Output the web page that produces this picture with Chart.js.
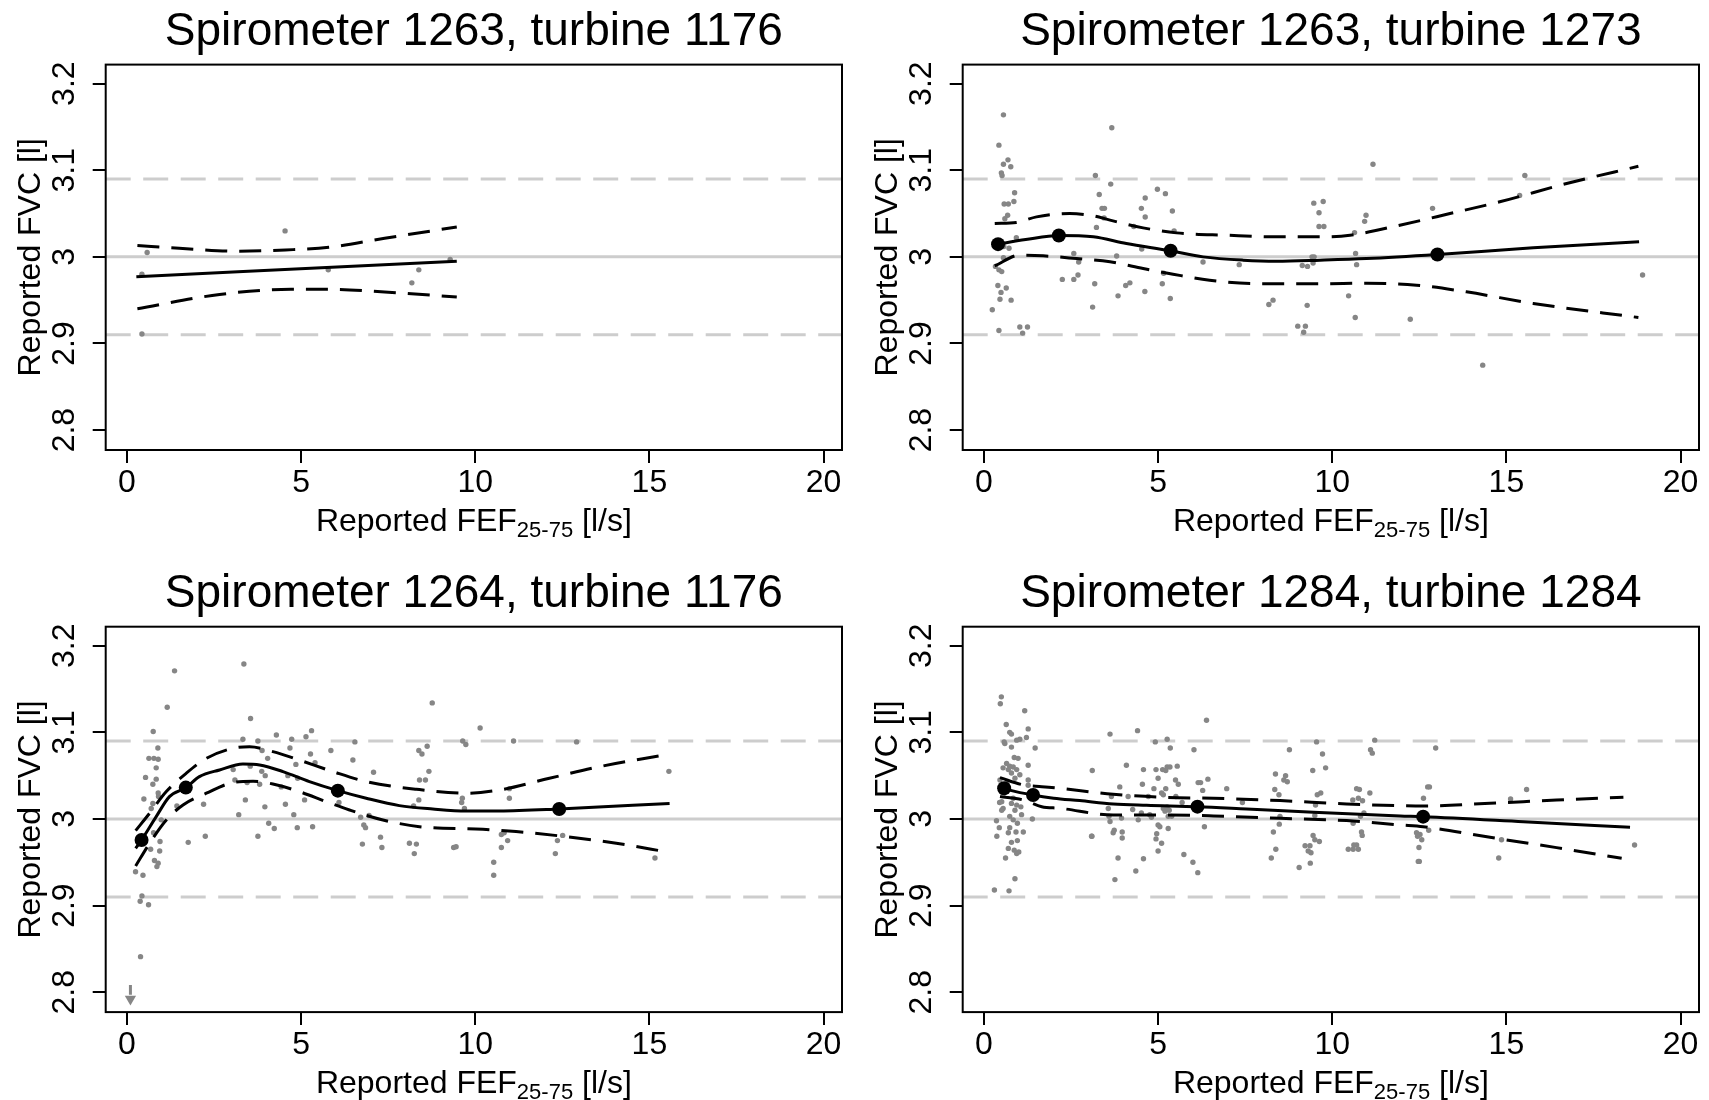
<!DOCTYPE html>
<html>
<head>
<meta charset="utf-8">
<title>Reported FVC vs FEF25-75</title>
<script src="https://cdn.jsdelivr.net/npm/chart.js@4.4.1/dist/chart.umd.min.js"></script>
<style>
	html, body { margin: 0; padding: 0; background: #fff; }
	#page { position: relative; width: 1709px; height: 1100px; overflow: hidden; }
	#page canvas { position: absolute; }
</style>
</head>
<body>
<div id="page">
	<canvas id="panelA" width="855" height="550" style="left:0;top:0"></canvas>
	<canvas id="panelB" width="854" height="550" style="left:855px;top:0"></canvas>
	<canvas id="panelC" width="855" height="550" style="left:0;top:550px"></canvas>
	<canvas id="panelD" width="854" height="550" style="left:855px;top:550px"></canvas>
</div>
<script>
// axis ranges and ticks (shared by all panels)
const xRange = [-0.61, 20.53];
const yRange = [2.777, 3.222];
const xTicks = [0, 5, 10, 15, 20];
const yTicks = [2.8, 2.9, 3.0, 3.1, 3.2];
const refSolid = [3.0];
const refDashed = [2.91, 3.09];

const titles = [
	'Spirometer 1263, turbine 1176',
	'Spirometer 1263, turbine 1273',
	'Spirometer 1264, turbine 1176',
	'Spirometer 1284, turbine 1284'
];

// Spirometer 1263, turbine 1176
const pointsA = [[0.43,2.980],[0.58,3.005],[0.43,2.911],[4.54,3.030],[5.78,2.985],[8.18,2.970],[8.38,2.985],[9.28,2.997]];
const fitA = [[0.27,2.977],[9.47,2.995]];
const upperA = [[0.3,3.013],[1.5,3.010],[3.14,3.0065],[4.55,3.008],[5.8,3.011],[7.4,3.0215],[9.47,3.0345]];
const lowerA = [[0.3,2.940],[2.66,2.9566],[4.71,2.9626],[5.8,2.9626],[7.4,2.9594],[9.47,2.9537]];
const knotsA = [];

// Spirometer 1263, turbine 1273
const pointsB = [[0.56,3.164],[0.43,3.129],[0.56,3.107],[0.69,3.112],[0.77,3.104],[0.50,3.097],[0.52,3.094],[0.88,3.074],[0.86,3.064],[0.58,3.061],
	[0.70,3.061],[0.60,3.044],[0.68,3.048],[0.93,3.022],[0.57,3.012],[0.72,3.010],[0.56,2.999],[0.33,2.989],[0.43,2.985],[0.51,2.983],
	[0.40,2.967],[0.49,2.959],[0.64,2.964],[0.46,2.951],[0.78,2.950],[0.24,2.939],[0.43,2.915],[1.03,2.919],[1.11,2.912],[1.25,2.919],
	[2.25,2.974],[2.58,3.004],[2.72,2.994],[2.58,2.974],[2.70,2.979],[3.18,2.969],[3.12,2.942],[3.20,3.094],[3.31,3.072],[3.23,3.034],
	[3.64,3.084],[3.67,3.149],[3.39,3.056],[3.46,3.056],[3.45,3.045],[3.81,3.001],[3.85,2.955],[4.07,2.967],[4.19,2.970],[4.30,3.035],
	[4.52,3.056],[4.63,3.068],[4.63,3.046],[4.53,3.009],[4.62,2.960],[4.98,3.078],[5.21,3.073],[5.41,3.053],[5.46,3.030],[5.16,2.981],
	[5.12,2.969],[5.35,2.952],[6.29,2.994],[7.33,2.991],[8.18,2.945],[8.30,2.950],[9.01,2.920],[9.23,2.920],[9.18,2.913],[9.28,2.944],
	[9.14,2.990],[9.29,2.989],[9.42,3.000],[9.48,3.000],[9.45,2.993],[9.47,3.062],[9.62,3.051],[9.62,3.035],[9.74,3.064],[9.76,3.035],
	[10.47,2.955],[10.66,2.930],[10.64,3.028],[10.67,3.004],[10.70,2.991],[10.93,3.041],[10.97,3.048],[11.17,3.107],[12.24,2.928],[12.88,3.056],
	[14.32,2.875],[15.38,3.071],[15.53,3.094],[18.91,2.979]];
const fitB = [[0.31,3.014],[1.2,3.020],[2.15,3.0247],[3.14,3.0231],[4.09,3.0155],[5.36,3.007],[6.29,3.000],[7.44,2.9962],[8.4,2.995],
	[9.65,2.9962],[10.98,2.998],[13.02,3.0027],[15.77,3.0105],[18.81,3.0174]];
const upperB = [[0.31,3.0385],[0.93,3.0397],[1.51,3.0462],[2.46,3.050],[3.14,3.0474],[3.62,3.0424],[4.57,3.0335],[5.53,3.0277],[6.96,3.025],
	[8.4,3.0231],[9.65,3.0231],[10.51,3.025],[11.94,3.0366],[13.38,3.050],[14.81,3.0636],[16.73,3.0847],[18.79,3.1046]];
const lowerB = [[0.31,2.9896],[1.03,3.002],[1.7,3.0012],[2.66,2.998],[3.62,2.9943],[4.57,2.9866],[5.43,2.980],[6.48,2.973],[7.92,2.969],
	[9.65,2.969],[10.98,2.9696],[12.42,2.9673],[13.85,2.9596],[15.77,2.9462],[18.79,2.930]];
const knotsB = [[0.405,3.0147],[2.15,3.0247],[5.36,3.007],[13.02,3.0027]];

// Spirometer 1264, turbine 1176
const pointsC = [[1.367,3.171],[3.357,3.179],[1.156,3.129],[3.549,3.116],[0.754,3.101],[0.888,3.082],[0.630,3.070],[0.774,3.070],[0.897,3.069],[0.84,3.059],
	[0.534,3.048],[0.84,3.046],[0.744,3.040],[0.897,3.030],[0.486,3.023],[0.744,3.018],[0.697,3.012],[0.907,3.026],[0.984,2.999],[0.763,2.984],
	[0.95,2.974],[0.68,2.965],[0.94,2.963],[0.79,2.952],[0.897,2.949],[0.86,2.945],[0.247,2.939],[0.46,2.935],[0.43,2.911],[0.38,2.905],
	[0.62,2.901],[0.39,2.841],[1.434,3.015],[1.759,2.973],[2.20,3.017],[2.25,2.980],[3.05,3.057],[3.10,3.045],[3.33,3.092],[3.21,3.005],
	[3.40,3.022],[3.45,3.042],[3.54,3.061],[3.76,3.090],[3.76,2.980],[3.81,3.040],[3.87,3.055],[3.97,3.050],[3.88,3.079],[3.96,3.014],
	[4.04,3.070],[4.07,2.995],[4.23,2.989],[4.29,3.097],[4.43,3.037],[4.55,3.017],[4.62,3.050],[4.68,3.082],[4.73,3.092],[4.79,3.005],
	[4.85,3.063],[4.90,3.047],[4.89,2.990],[5.10,3.022],[5.14,3.095],[5.30,3.102],[5.27,3.075],[5.40,3.065],[5.33,2.991],[5.855,3.079],
	[6.087,3.019],[6.487,3.068],[6.545,3.089],[6.71,3.002],[6.80,2.993],[6.85,2.990],[6.76,2.971],[7.08,3.054],[7.28,2.979],[7.32,2.967],
	[6.95,3.004],[8.11,2.972],[8.25,2.960],[8.31,2.971],[8.23,3.015],[8.40,3.045],[8.38,3.079],[8.38,3.022],[8.47,3.075],[8.57,3.045],
	[8.62,3.084],[8.67,3.055],[8.765,3.134],[9.38,2.967],[9.45,2.968],[9.63,3.024],[9.61,3.019],[9.69,3.012],[9.64,3.090],[9.73,3.086],
	[10.14,3.105],[10.53,2.950],[10.53,2.935],[10.75,2.967],[10.75,2.982],[10.83,2.984],[10.93,2.975],[10.98,3.035],[10.98,3.024],[11.1,3.090],
	[12.30,2.960],[12.36,2.975],[12.51,2.981],[12.91,3.089],[15.16,2.955],[15.56,3.055]];
const fitC = [[0.25,2.966],[0.42,2.9757],[0.84,3.0027],[1.22,3.0258],[1.69,3.0362],[2.08,3.0489],[2.66,3.0566],[3.33,3.0635],[3.81,3.0624],
	[4.48,3.0547],[5.24,3.0431],[6.055,3.0327],[6.87,3.0239],[7.82,3.0154],[8.78,3.0115],[9.74,3.0092],[10.7,3.0092],[12.41,3.0115],[15.58,3.018]];
const upperC = [[0.25,2.9865],[0.65,3.0066],[1.13,3.0316],[1.7,3.0527],[2.28,3.070],[3.04,3.0816],[3.52,3.0835],[4.19,3.0777],[4.95,3.068],
	[5.91,3.0547],[6.87,3.0431],[8.31,3.0343],[9.74,3.0297],[10.7,3.0335],[12.13,3.047],[13.57,3.0604],[15.56,3.0747]];
const lowerC = [[0.25,2.9457],[0.65,2.9719],[1.13,2.9988],[1.61,3.0162],[2.28,3.0297],[3.04,3.042],[3.62,3.0435],[4.19,3.0404],[4.95,3.0316],
	[5.72,3.020],[6.39,3.0104],[7.35,2.9988],[8.4,2.9911],[10.22,2.988],[11.17,2.9854],[12.61,2.9796],[14.05,2.972],[15.56,2.9615]];
const knotsC = [[0.42,2.9757],[1.69,3.0362],[6.055,3.0327],[12.41,3.0115]];
// one value below the axis, shown as an arrow
const offScaleC = [[0.1,2.8083],[0.1,2.797]];

// Spirometer 1284, turbine 1284
const pointsD = [[0.50,3.141],[0.47,3.133],[1.17,3.125],[0.64,3.109],[1.27,3.104],[0.74,3.100],[0.79,3.098],[0.94,3.091],[1.03,3.092],[1.22,3.094],
	[0.58,3.089],[0.60,3.087],[0.79,3.083],[1.47,3.082],[0.87,3.071],[0.98,3.070],[0.65,3.064],[0.74,3.061],[0.84,3.060],[0.55,3.059],
	[0.70,3.057],[0.94,3.057],[1.27,3.062],[0.79,3.053],[1.03,3.051],[0.89,3.047],[1.27,3.045],[1.27,3.039],[0.46,3.045],[0.65,3.041],
	[0.55,3.028],[0.84,3.024],[0.51,3.020],[0.45,3.019],[0.79,3.018],[0.94,3.016],[1.06,3.014],[0.55,3.012],[0.51,3.010],[0.89,3.010],
	[1.08,3.005],[1.39,3.000],[0.74,3.003],[0.84,2.999],[0.36,2.998],[0.96,2.995],[0.44,2.990],[0.74,2.990],[0.92,2.985],[1.13,2.985],
	[0.37,2.980],[0.70,2.984],[0.79,2.973],[0.96,2.975],[0.70,2.966],[0.87,2.964],[1.00,2.962],[0.94,2.960],[0.62,2.955],[0.89,2.931],
	[0.30,2.918],[0.72,2.917],
	[3.11,3.056],[3.09,2.980],[3.10,2.980],[3.62,3.098],[3.57,3.012],[3.59,3.003],[3.62,2.997],[3.66,3.026],[3.71,2.984],[3.74,2.987],
	[3.76,2.930],[3.85,2.955],[3.90,3.037],[3.95,3.001],[3.97,2.985],[3.97,2.978],[4.09,3.062],[4.14,3.026],[4.27,3.011],[4.36,2.940],
	[4.41,3.102],[4.43,2.999],[4.52,3.007],[4.55,3.040],[4.58,3.057],[4.58,2.954],[4.72,3.026],[4.76,3.005],[4.81,3.002],[4.88,3.035],
	[4.92,3.089],[4.94,3.057],[4.96,2.983],[4.94,2.977],[5.00,3.047],[5.00,2.993],[5.05,2.991],[5.00,2.963],[5.10,2.972],[5.10,3.030],
	[5.15,3.028],[5.13,3.057],[5.15,3.012],[5.20,3.009],[5.26,3.014],[5.22,3.056],[5.26,3.060],[5.26,3.092],[5.35,3.082],[5.22,3.035],
	[5.29,3.003],[5.39,3.003],[5.29,2.989],[5.32,3.010],[5.34,3.060],[5.50,3.045],[5.58,3.040],[5.55,3.061],[5.51,3.026],[5.69,3.019],
	[5.74,2.959],[6.00,2.950],[6.03,3.080],[6.14,2.938],[6.15,3.042],[6.22,3.042],[6.28,3.033],[6.33,2.991],[6.43,3.046],[6.39,3.114],
	[6.97,3.035],[7.42,3.019],[8.25,2.955],[8.31,2.985],[8.38,2.965],[8.37,3.052],[8.35,3.034],[8.47,3.028],[8.48,2.994],[8.50,3.003],
	[8.61,3.045],[8.71,3.043],[8.66,3.050],[8.77,3.080],[9.05,2.944],[9.22,2.969],[9.36,2.969],[9.31,2.963],[9.39,2.961],[9.37,2.949],
	[9.45,2.981],[9.50,2.976],[9.63,2.974],[9.44,3.056],[9.50,3.004],[9.52,3.016],[9.57,3.028],[9.67,3.030],[9.55,3.089],[9.72,3.075],
	[9.81,3.059],[10.46,2.965],[10.60,2.965],[10.70,2.970],[10.75,2.965],[10.62,2.970],[10.60,2.995],[10.75,3.024],[10.70,3.035],[10.78,3.034],
	[10.84,2.985],[10.86,2.981],[10.81,3.003],[10.59,3.022],[10.87,3.021],[10.91,3.007],[11.08,3.030],[11.10,3.080],[11.15,3.076],[11.22,3.091],
	[12.97,3.082],[12.74,3.037],[12.79,3.037],[12.62,3.024],[12.77,2.987],[12.42,2.984],[12.52,2.982],[12.45,2.980],[12.57,2.976],[12.49,2.967],
	[12.47,2.951],[12.50,2.951],[14.78,2.955],[14.86,2.976],[15.12,3.023],[15.58,3.034],[18.68,2.970]];
const fitD = [[0.45,3.038],[0.58,3.0354],[1.41,3.0277],[2.0,3.024],[2.75,3.0212],[3.71,3.0173],[4.67,3.0158],[6.13,3.0142],[7.54,3.0115],
	[9.46,3.0077],[11.95,3.0035],[12.61,3.0027],[15.49,2.9969],[18.55,2.9904]];
const upperD = [[0.46,3.0477],[1.13,3.0393],[1.66,3.0373],[2.18,3.0354],[3.71,3.0285],[5.15,3.025],[6.59,3.0239],[8.5,3.0212],[10.41,3.0173],
	[11.95,3.0154],[12.61,3.015],[14.53,3.0181],[16.44,3.0219],[18.36,3.025]];
const lowerD = [[0.46,3.0258],[1.13,3.0219],[1.66,3.0142],[2.18,3.0123],[3.71,3.0046],[5.15,3.0046],[6.59,3.0035],[8.5,3.0008],[10.41,2.9981],
	[11.95,2.9931],[12.61,2.9911],[14.53,2.9788],[16.44,2.9669],[18.31,2.9546]];
const knotsD = [[0.58,3.0354],[1.41,3.0277],[6.13,3.0142],[12.61,3.0027]];

const FONT = '"Liberation Sans", Arial, Helvetica, sans-serif';
const GREY_PT = '#868686';
const GREY_REF = '#cdcdcd';

// plot box placement inside the page
const BOX_W = 736.3;
const BOX_H = 385.4;
const AXIS_SIZE = 20;

const toXY = arr => arr.map(([x, y]) => ({ x, y }));
const fmtY = v => (v === 3 ? '3' : v.toFixed(1));

// titles, tick labels, axis titles and the frame
const panelText = {
	id: 'panelText',
	afterDraw(chart, args, opts) {
		const { ctx, chartArea: a, scales } = chart;
		const cx = (a.left + a.right) / 2;
		const cy = (a.top + a.bottom) / 2;
		ctx.save();
		ctx.strokeStyle = '#000';
		ctx.lineWidth = 2;
		ctx.strokeRect(a.left, a.top, a.right - a.left, a.bottom - a.top);

		ctx.fillStyle = '#000';
		ctx.textAlign = 'center';
		ctx.textBaseline = 'middle';
		ctx.font = `46px ${FONT}`;
		ctx.fillText(opts.title, cx, a.top - 32);

		ctx.font = `32px ${FONT}`;
		xTicks.forEach(v => ctx.fillText(String(v), scales.x.getPixelForValue(v), a.bottom + 33));
		yTicks.forEach(v => {
			ctx.save();
			ctx.translate(a.left - 41, scales.y.getPixelForValue(v));
			ctx.rotate(-Math.PI / 2);
			ctx.fillText(fmtY(v), 0, 0);
			ctx.restore();
		});

		ctx.save();
		ctx.translate(a.left - 75, cy);
		ctx.rotate(-Math.PI / 2);
		ctx.fillText('Reported FVC [l]', 0, 0);
		ctx.restore();

		// x title with subscript
		const main1 = 'Reported FEF', sub = '25-75', main2 = ' [l/s]';
		ctx.textAlign = 'left';
		ctx.textBaseline = 'alphabetic';
		ctx.font = `32px ${FONT}`;
		const w1 = ctx.measureText(main1).width;
		const w3 = ctx.measureText(main2).width;
		ctx.font = `22px ${FONT}`;
		const w2 = ctx.measureText(sub).width;
		let x0 = cx - (w1 + w2 + w3) / 2;
		const base = a.bottom + 81;
		ctx.font = `32px ${FONT}`;
		ctx.fillText(main1, x0, base);
		ctx.font = `22px ${FONT}`;
		ctx.fillText(sub, x0 + w1, base + 6);
		ctx.font = `32px ${FONT}`;
		ctx.fillText(main2, x0 + w1 + w2, base);
		ctx.restore();
	}
};

function lineSet(data, dash, order) {
	return {
		data: toXY(data), showLine: true, pointRadius: 0, borderColor: '#000', borderWidth: 3,
		borderDash: dash, cubicInterpolationMode: 'monotone', order
	};
}

function makePanel(canvasId, geom, title, series) {
	const canvas = document.getElementById(canvasId);
	const datasets = [];
	if (series.knots.length) {
		datasets.push({ data: toXY(series.knots), pointRadius: 7, backgroundColor: '#000', borderWidth: 0, order: 0 });
	}
	datasets.push(lineSet(series.fit, [], 1));
	datasets.push(lineSet(series.upper, [22, 12], 1));
	datasets.push(lineSet(series.lower, [22, 12], 1));
	if (series.offScale) {
		datasets.push({ data: toXY(series.offScale), showLine: true, pointRadius: 0, borderColor: GREY_PT, borderWidth: 3, order: 2 });
		const tip = series.offScale[series.offScale.length - 1];
		datasets.push({ data: [{ x: tip[0], y: tip[1] - 0.005 }], pointStyle: 'triangle', rotation: 180, pointRadius: 6.5,
			backgroundColor: GREY_PT, borderWidth: 0, order: 2 });
	}
	datasets.push({ data: toXY(series.points), pointRadius: 2.7, backgroundColor: GREY_PT, borderWidth: 0, order: 2 });
	refSolid.forEach(v => datasets.push({
		data: toXY(xRange.map(x => [x, v])), showLine: true, pointRadius: 0, borderColor: GREY_REF, borderWidth: 3, order: 3
	}));
	refDashed.forEach(v => datasets.push({
		data: toXY(xRange.map(x => [x, v])), showLine: true, pointRadius: 0, borderColor: GREY_REF, borderWidth: 3,
		borderDash: [25, 12.5], order: 3
	}));

	const tickGrid = { drawOnChartArea: false, drawTicks: true, tickLength: 13, lineWidth: 2, color: '#000', tickColor: '#000', tickWidth: 2 };
	const localLeft = geom.boxL - geom.left;
	const localTop = geom.boxT - geom.top;

	return new Chart(canvas, {
		type: 'scatter',
		data: { datasets },
		options: {
			responsive: false,
			animation: false,
			events: [],
			layout: {
				padding: {
					left: localLeft - AXIS_SIZE,
					top: localTop,
					right: canvas.width - localLeft - BOX_W,
					bottom: canvas.height - localTop - BOX_H - AXIS_SIZE
				}
			},
			plugins: { legend: { display: false }, tooltip: { enabled: false }, panelText: { title } },
			scales: {
				x: {
					type: 'linear', min: xRange[0], max: xRange[1],
					afterBuildTicks: s => { s.ticks = xTicks.map(value => ({ value })); },
					afterFit: s => { s.height = AXIS_SIZE; },
					ticks: { callback: () => '', font: { size: 1 } },
					grid: tickGrid,
					border: { display: false }
				},
				y: {
					type: 'linear', min: yRange[0], max: yRange[1],
					afterBuildTicks: s => { s.ticks = yTicks.map(value => ({ value })); },
					afterFit: s => { s.width = AXIS_SIZE; },
					ticks: { callback: () => '', font: { size: 1 } },
					grid: tickGrid,
					border: { display: false }
				}
			}
		},
		plugins: [panelText]
	});
}

const layoutGeom = [
	{ left: 0, top: 0, boxL: 105.7, boxT: 64.6 },
	{ left: 855, top: 0, boxL: 962.7, boxT: 64.6 },
	{ left: 0, top: 550, boxL: 105.7, boxT: 626.7 },
	{ left: 855, top: 550, boxL: 962.7, boxT: 626.7 }
];

makePanel('panelA', layoutGeom[0], titles[0], { points: pointsA, fit: fitA, upper: upperA, lower: lowerA, knots: knotsA });
makePanel('panelB', layoutGeom[1], titles[1], { points: pointsB, fit: fitB, upper: upperB, lower: lowerB, knots: knotsB });
makePanel('panelC', layoutGeom[2], titles[2], { points: pointsC, fit: fitC, upper: upperC, lower: lowerC, knots: knotsC, offScale: offScaleC });
makePanel('panelD', layoutGeom[3], titles[3], { points: pointsD, fit: fitD, upper: upperD, lower: lowerD, knots: knotsD });
</script>
</body>
</html>
